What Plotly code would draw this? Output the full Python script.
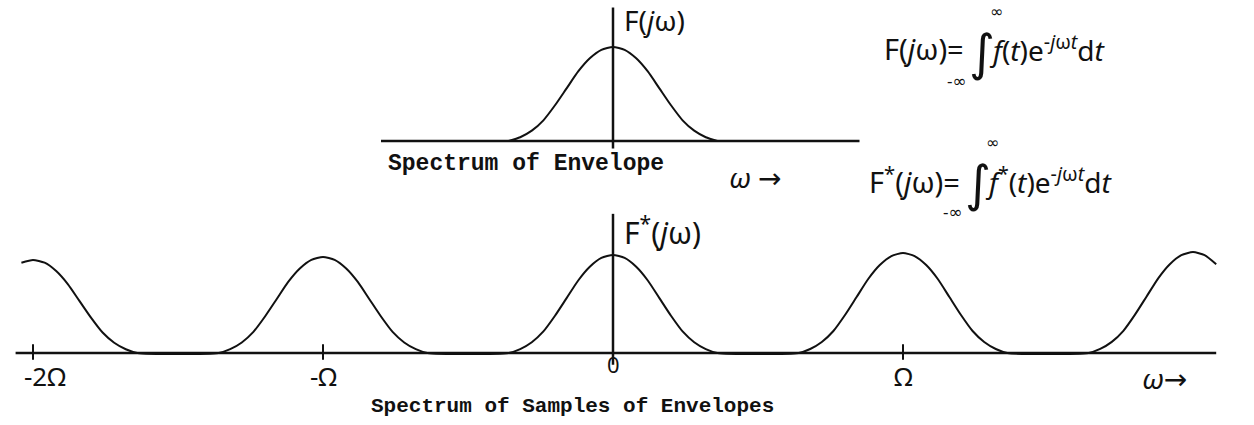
import plotly.graph_objects as go

# Envelope spectrum profile F(jw): offset from the peak (in units of Omega) and relative height
envelope_offset = [-0.36, -0.32, -0.28, -0.24, -0.20, -0.16, -0.12, -0.08, -0.04, 0.0,
                   0.04, 0.08, 0.12, 0.16, 0.20, 0.24, 0.28, 0.32, 0.36]
envelope_value = [0.0, 0.04, 0.11, 0.22, 0.38, 0.56, 0.74, 0.88, 0.97, 1.0,
                  0.97, 0.88, 0.74, 0.56, 0.38, 0.22, 0.11, 0.04, 0.0]

# Sampled spectrum F*(jw): one copy of the envelope around every multiple of Omega
replica_center = [-2, -1, 0, 1, 2]
replica_peak = [0.95, 0.98, 1.0, 1.02, 1.03]
# visible part of the outer replicas
replica_from = [-0.04, -0.36, -0.36, -0.36, -0.36]
replica_to = [0.36, 0.36, 0.36, 0.36, 0.08]

tick_values = [-2, -1, 0, 1]
tick_labels = ["-2Ω", "-Ω", "0", "Ω"]

star_w, star_F = [], []
for c, p, lo, hi in zip(replica_center, replica_peak, replica_from, replica_to):
    for off, val in zip(envelope_offset, envelope_value):
        if lo - 1e-9 <= off <= hi + 1e-9:
            star_w.append(c + off)
            star_F.append(p * val)

INK = "#111111"
HAND = "Noto Sans, DejaVu Sans, sans-serif"
TYPE = "Liberation Mono, Courier New, monospace"
W, H = 1254, 425

fig = go.Figure()
fig.add_trace(go.Scatter(x=envelope_offset, y=envelope_value, mode="lines",
                         line=dict(color=INK, width=2, shape="spline", smoothing=0.6),
                         yaxis="y", hoverinfo="skip"))
fig.add_trace(go.Scatter(x=star_w, y=star_F, mode="lines",
                         line=dict(color=INK, width=2, shape="spline", smoothing=0.6),
                         yaxis="y2", hoverinfo="skip"))

shapes = [
    # upper diagram: baseline and ordinate
    dict(type="line", xref="x", yref="y", x0=-0.80, x1=0.85, y0=0, y1=0,
         line=dict(color=INK, width=2.5)),
    dict(type="line", xref="x", yref="y", x0=0, x1=0, y0=-0.08, y1=1.42,
         line=dict(color=INK, width=2.5)),
    # lower diagram: baseline and ordinate
    dict(type="line", xref="x", yref="y2", x0=-2.06, x1=2.08, y0=0, y1=0,
         line=dict(color=INK, width=2.5)),
    dict(type="line", xref="x", yref="y2", x0=0, x1=0, y0=-0.12, y1=1.42,
         line=dict(color=INK, width=2.5)),
]
for t in tick_values:
    if t != 0:
        shapes.append(dict(type="line", xref="x", yref="y2", x0=t, x1=t, y0=-0.07, y1=0.09,
                           line=dict(color=INK, width=2)))

ann = []
for t, lab in zip(tick_values, tick_labels):
    ann.append(dict(x=t, y=-0.23 if t != 0 else -0.11, xref="x", yref="y2", text=lab,
                    showarrow=False, font=dict(family=HAND, size=26 if t != 0 else 22, color=INK),
                    xanchor="center", yanchor="middle", xshift=12 if t == -2 else 0))

ann += [
    dict(x=0.03, y=1.29, xref="x", yref="y", text="F(<i>j</i>ω)", showarrow=False,
         xanchor="left", yanchor="middle", font=dict(family=HAND, size=28, color=INK)),
    dict(x=0.03, y=1.25, xref="x", yref="y2", text="F<sup>*</sup>(<i>j</i>ω)", showarrow=False,
         xanchor="left", yanchor="middle", font=dict(family=HAND, size=30, color=INK)),
    dict(x=-0.30, y=-0.24, xref="x", yref="y", text="<b>Spectrum of Envelope</b>",
         showarrow=False, xanchor="center", yanchor="middle",
         font=dict(family=TYPE, size=23, color=INK)),
    dict(x=0.49, y=-0.38, xref="x", yref="y", text="<i>ω</i> →", showarrow=False,
         xanchor="center", yanchor="middle", font=dict(family=HAND, size=28, color=INK)),
    dict(x=-0.14, y=-0.55, xref="x", yref="y2", text="<b>Spectrum of Samples of Envelopes</b>",
         showarrow=False, xanchor="center", yanchor="middle",
         font=dict(family=TYPE, size=21, color=INK)),
    dict(x=1.90, y=-0.25, xref="x", yref="y2", text="<i>ω</i>→", showarrow=False,
         xanchor="center", yanchor="middle", font=dict(family=HAND, size=28, color=INK)),
]

# Fourier-integral definitions written beside the diagrams (positions in pixels)
def integral(x_eq, y_mid, lhs, body, exp):
    px = lambda v: v / W
    py = lambda v: 1 - v / H
    return [
        dict(x=px(x_eq), y=py(y_mid), xref="paper", yref="paper", text=lhs, showarrow=False,
             xanchor="right", yanchor="middle", font=dict(family=HAND, size=29, color=INK)),
        dict(x=px(x_eq + 1), y=py(y_mid + 2), xref="paper", yref="paper", text="∫",
             showarrow=False, xanchor="left", yanchor="middle",
             font=dict(family=HAND, size=50, color=INK)),
        dict(x=px(x_eq + 22), y=py(y_mid - 38), xref="paper", yref="paper", text="∞",
             showarrow=False, xanchor="left", yanchor="middle",
             font=dict(family=HAND, size=16, color=INK)),
        dict(x=px(x_eq + 3), y=py(y_mid + 32), xref="paper", yref="paper", text="-∞",
             showarrow=False, xanchor="right", yanchor="middle",
             font=dict(family=HAND, size=17, color=INK)),
        dict(x=px(x_eq + 21), y=py(y_mid), xref="paper", yref="paper",
             text=body + "<sup>" + exp + "</sup>d<i>t</i>", showarrow=False,
             xanchor="left", yanchor="middle", font=dict(family=HAND, size=28, color=INK)),
    ]

ann += integral(966, 49, "F(<i>j</i>ω)=", "<i>f</i>(<i>t</i>)e", "-<i>j</i>ω<i>t</i>")
ann += integral(962, 180, "F<sup>*</sup>(<i>j</i>ω)=", "<i>f</i><sup>*</sup>(<i>t</i>)e",
                "-<i>j</i>ω<i>t</i>")

PX_PER_OMEGA = 290.0
X0 = 613.0
fig.update_layout(
    width=W, height=H, margin=dict(l=0, r=0, t=0, b=0),
    paper_bgcolor="white", plot_bgcolor="white", showlegend=False,
    xaxis=dict(range=[-X0 / PX_PER_OMEGA, (W - X0) / PX_PER_OMEGA], visible=False,
               domain=[0, 1]),
    yaxis=dict(range=[-(H - 141) / 94.0, 141 / 94.0], visible=False, domain=[0, 1]),
    yaxis2=dict(range=[-(H - 353) / 98.0, 353 / 98.0], visible=False, domain=[0, 1],
                overlaying="y"),
    shapes=shapes, annotations=ann,
)
fig.write_html("out.html")
